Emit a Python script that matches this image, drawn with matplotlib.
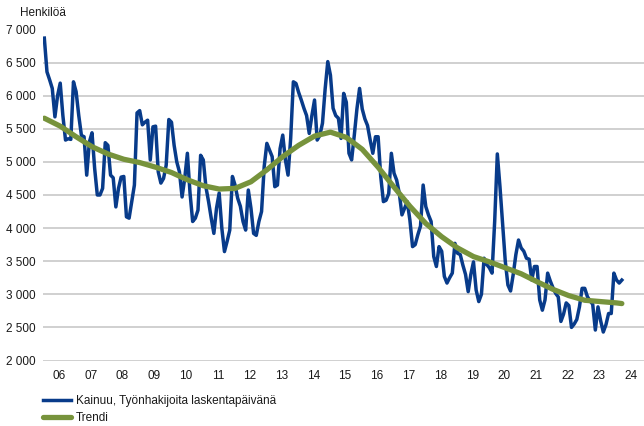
import matplotlib
matplotlib.use('Agg')
import matplotlib.pyplot as plt
from matplotlib.ticker import FuncFormatter, FixedLocator

plt.rcParams['font.family'] = ['Liberation Sans', 'DejaVu Sans']

# Kainuu, job seekers on the counting day, monthly from Jan 2006
start_year = 2006
seekers = [
    6870, 6360, 6240, 6110, 5680, 6000, 6190, 5700, 5330, 5350, 5340, 6210,  # 2006
    6060, 5700, 5400, 5380, 4800, 5300, 5440, 4900, 4500, 4500, 4600, 5290,  # 2007
    5250, 4800, 4760, 4320, 4600, 4770, 4780, 4170, 4150, 4400, 4650, 5740,  # 2008
    5775, 5560, 5600, 5630, 5030, 5530, 5540, 4850, 4680, 4750, 4950, 5640,  # 2009
    5600, 5250, 5000, 4850, 4470, 4750, 5130, 4530, 4100, 4150, 4270, 5100,  # 2010
    5030, 4620, 4400, 4150, 3920, 4300, 4530, 4000, 3645, 3800, 3970, 4780,  # 2011
    4650, 4450, 4330, 4100, 3970, 4575, 4300, 3920, 3890, 4100, 4250, 4930,  # 2012
    5280, 5180, 5080, 4625, 4650, 5200, 5405, 5030, 4800, 5360, 6210, 6185,  # 2013
    6050, 5935, 5810, 5700, 5430, 5700, 5935, 5330, 5400, 5585, 6100, 6515,  # 2014
    6310, 5810, 5700, 5660, 5355, 6035, 5900, 5130, 5030, 5400, 5800, 6110,  # 2015
    5800, 5650, 5550, 5330, 5130, 5380, 5380, 4775, 4400, 4420, 4520, 5130,  # 2016
    4830, 4725, 4525, 4200, 4300, 4400, 4120, 3720, 3750, 3900, 4030, 4650,  # 2017
    4325, 4200, 4100, 3570, 3420, 3720, 3650, 3270, 3170, 3250, 3320, 3770,  # 2018
    3620, 3600, 3440, 3300, 3040, 3300, 3490, 3065, 2890, 3000, 3545, 3450,  # 2019
    3400, 3320, 4100, 5120, 4625, 4070, 3500, 3140, 3050, 3300, 3600, 3820,  # 2020
    3700, 3650, 3545, 3530, 3215, 3420, 3420, 2915, 2760, 2915, 3320, 3200,  # 2021
    3100, 3015, 2960, 2590, 2700, 2870, 2830, 2500, 2550, 2620, 2810, 3090,  # 2022
    3090, 2965, 2900, 2850, 2460, 2810, 2600, 2430, 2540, 2710, 2710, 3320,  # 2023
    3215, 3170, 3215,                                                        # 2024
]

# trend, read every six months (month index from Jan 2006)
trend_month = [0, 6, 12, 18, 24, 30, 36, 42, 48, 54, 60, 66, 72, 78, 84, 90,
               96, 102, 108, 114, 120, 126, 132, 138, 144, 150, 156, 162, 168,
               174, 180, 186, 192, 198, 204, 210, 216, 218]
trend = [5660, 5540, 5380, 5230, 5120, 5040, 4990, 4920, 4840, 4730, 4640,
         4590, 4600, 4700, 4880, 5080, 5250, 5390, 5450, 5370, 5190, 4920,
         4620, 4330, 4070, 3870, 3700, 3570, 3490, 3400, 3310, 3190, 3075,
         2980, 2910, 2890, 2870, 2860]

year_labels = ['06', '07', '08', '09', '10', '11', '12', '13', '14', '15',
               '16', '17', '18', '19', '20', '21', '22', '23', '24']

blue = '#083b8a'
green = '#77933c'
fs = 8.5

x_seek = [start_year + (i + 0.5) / 12 for i in range(len(seekers))]
x_trend = [start_year + (m + 0.5) / 12 for m in trend_month]

fig = plt.figure(figsize=(6.44, 4.26), dpi=100)
ax = fig.add_axes([43 / 644, 65.5 / 426, 604 / 644, 331 / 426])

ax.plot(x_seek, seekers, color=blue, lw=2.5, solid_joinstyle='round',
        label='Kainuu, Työnhakijoita laskentapäivänä', zorder=3)
ax.plot(x_trend, trend, color=green, lw=3.8, solid_capstyle='round',
        label='Trendi', zorder=4)

ax.set_ylim(2000, 7000)
ax.set_xlim(start_year, start_year + len(year_labels))
ax.set_yticks(range(2000, 7001, 500))
ax.yaxis.set_major_formatter(FuncFormatter(lambda v, p: f'{int(v):,}'.replace(',', ' ')))
ax.xaxis.set_major_locator(FixedLocator([start_year + k + 0.5 for k in range(len(year_labels))]))
ax.set_xticklabels(year_labels)
ax.tick_params(length=0, labelsize=fs, colors='#1a1a1a')
ax.tick_params(axis='y', pad=5)
ax.tick_params(axis='x', pad=6.5)
ax.grid(axis='y', color='#c8c8c8', lw=1.2)
ax.set_axisbelow(True)
for s in ax.spines.values():
    s.set_visible(False)

fig.text(20 / 644, 1 - 12.5 / 426, 'Henkilöä', fontsize=fs, va='center', ha='left',
         color='#1a1a1a')

leg = fig.legend(loc='upper left', bbox_to_anchor=(38 / 644, 1 - 390 / 426),
                 frameon=False, fontsize=fs, handlelength=2.4, handletextpad=0.42,
                 labelspacing=0.42, borderaxespad=0)
for t in leg.get_texts():
    t.set_color('#1a1a1a')

fig.savefig('out.png', dpi=100)
